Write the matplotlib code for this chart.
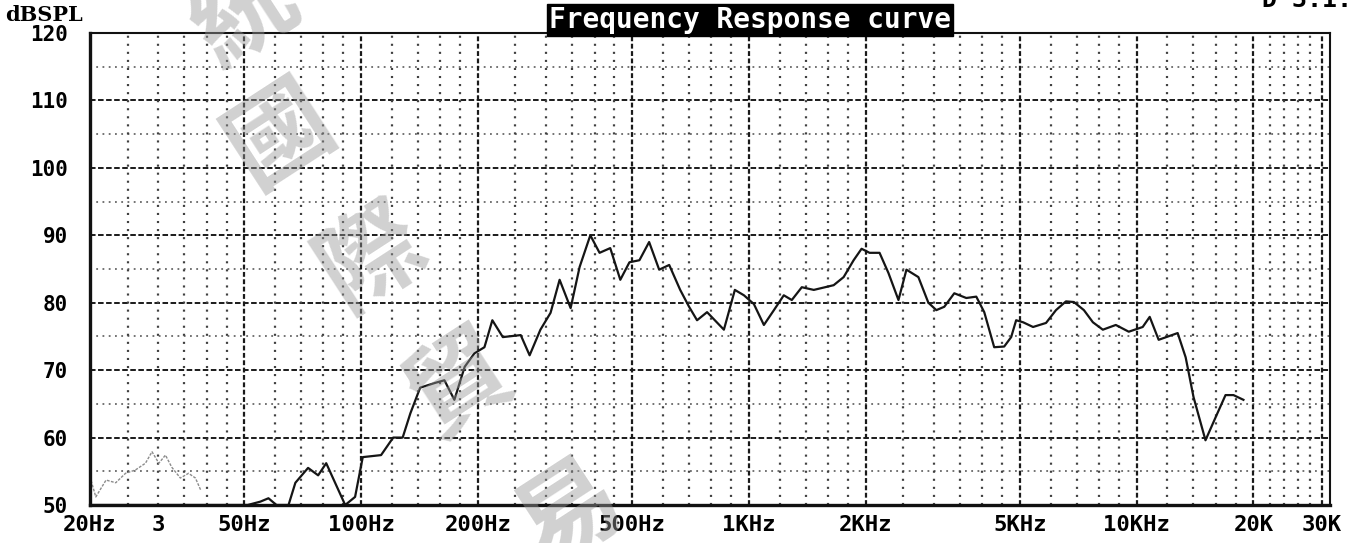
import matplotlib
matplotlib.use("Agg")
import matplotlib.pyplot as plt
from matplotlib.ticker import NullLocator

plt.rcParams['lines.scale_dashes'] = False

# measured response, main trace (Hz, dBSPL)
freq = [20, 51, 55, 57.7, 60.5, 65, 67.7, 73, 77.5, 81.3, 85.7, 91, 96.5, 101,
        112.6, 121, 128, 134, 142, 155, 164, 174, 185, 196, 208, 218, 232, 258,
        272, 290, 308, 325, 347, 366, 390, 412, 439, 466, 492, 522, 553, 587,
        623, 665, 701, 735, 780, 862, 920, 971, 1030, 1093, 1160, 1230, 1290,
        1369, 1470, 1654, 1755, 1862, 1952, 2047, 2172, 2290, 2430, 2548, 2735,
        2902, 3043, 3190, 3385, 3635, 3857, 4044, 4290, 4552, 4745, 4887, 5093,
        5403, 5836, 6191, 6569, 6887, 7308, 7708, 8177, 8831, 9537, 10360,
        10800, 11390, 12750, 13370, 14010, 15040, 15970, 16940, 17760, 18840]
spl = [50, 50, 50.5, 51, 50, 50, 53.3, 55.5, 54.4, 56.2, 53.3, 50, 51.2, 57.1,
       57.4, 60, 60, 63.6, 67.4, 68.1, 68.5, 65.6, 70.5, 72.5, 73.4, 77.4, 74.9,
       75.2, 72.2, 76, 78.5, 83.4, 79.2, 85.3, 90, 87.4, 88.1, 83.4, 86, 86.3,
       89, 84.9, 85.6, 81.9, 79.4, 77.4, 78.6, 76, 81.9, 81.1, 79.8, 76.7, 78.9,
       81.1, 80.4, 82.3, 81.9, 82.6, 83.8, 86.3, 88, 87.4, 87.4, 84.4, 80.4,
       84.9, 83.8, 80, 78.9, 79.4, 81.4, 80.7, 80.9, 78.6, 73.4, 73.5, 74.9,
       77.4, 77.1, 76.4, 77, 78.9, 80.2, 80.1, 78.9, 77.1, 76, 76.7, 75.7, 76.4,
       77.9, 74.5, 75.5, 71.9, 66, 59.6, 63, 66.3, 66.3, 65.6]

# faint low-frequency trace
freq_lo = [20, 20.7, 22, 23.3, 24.7, 26.2, 27.8, 28.9, 30.1, 31.3, 32.5, 34.2,
           35.9, 37.4, 38.6]
spl_lo = [54.2, 51.2, 53.7, 53.3, 54.7, 55.2, 56.2, 57.9, 56.2, 57.4, 55.6, 54,
          54.7, 54, 52.2]

x_ticks = [20, 30, 50, 100, 200, 500, 1000, 2000, 5000, 10000, 20000, 30000]
x_labels = ['20Hz', '3', '50Hz', '100Hz', '200Hz', '500Hz', '1KHz', '2KHz',
            '5KHz', '10KHz', '20K', '30K']
y_ticks = [50, 60, 70, 80, 90, 100, 110, 120]

x_major_grid = [50, 100, 200, 500, 1000, 2000, 5000, 10000, 20000, 30000]
x_minor_grid = [25, 30, 35, 40, 45, 60, 70, 80, 90, 120, 140, 160, 180, 250,
                300, 350, 400, 450, 600, 700, 800, 900, 1200, 1400, 1600, 1800,
                2500, 3000, 3500, 4000, 4500, 6000, 7000, 8000, 9000, 12000,
                14000, 16000, 18000, 22000, 24000, 26000, 28000]
y_major_grid = [60, 70, 80, 90, 100, 110]
y_minor_grid = [55, 65, 75, 85, 95, 105, 115]

watermark = ['統', '國', '際', '貿', '易']
wm_pos = [(245, 14), (280, 135), (372, 258), (460, 385), (570, 515)]

W, H = 1357, 543
mono = 'DejaVu Sans Mono'

fig = plt.figure(figsize=(W / 100, H / 100), dpi=100)
ax = fig.add_axes([90 / W, 1 - 505 / H, 1240 / W, 472 / H])
ax.set_xscale('log')
ax.set_xlim(20, 31500)
ax.set_ylim(50, 120)

# chart paper grid
for v in y_minor_grid:
    ax.axhline(v, color='0.3', lw=1.1, ls=(0, (1.3, 3.2)), zorder=1)
for v in y_major_grid:
    ax.axhline(v, color='0.1', lw=1.4, ls=(0, (4, 1.8)), zorder=1)
for v in x_minor_grid:
    ax.axvline(v, color='0.25', lw=1.6, ls=(0, (1.5, 4.3)), zorder=1)
for v in x_major_grid:
    ax.axvline(v, color='0.1', lw=1.6, ls=(0, (3.5, 1.8)), zorder=1)

ax.plot(freq_lo, spl_lo, color='0.55', lw=1.0, ls=(0, (2, 1)), zorder=3)
ax.plot(freq, spl, color='#151515', lw=1.6, zorder=4)

ax.xaxis.set_minor_locator(NullLocator())
ax.yaxis.set_minor_locator(NullLocator())
ax.set_xticks(x_ticks, x_labels)
ax.set_yticks(y_ticks, [str(v) for v in y_ticks])
ax.tick_params(axis='x', length=0, pad=7, labelsize=16)
ax.tick_params(axis='y', length=0, pad=16, labelsize=15)
for lab in ax.get_xticklabels() + ax.get_yticklabels():
    lab.set_fontfamily(mono)
    lab.set_fontweight('bold')

for side, lw in [('left', 2.4), ('bottom', 2.4), ('top', 1.5), ('right', 1.5)]:
    ax.spines[side].set_linewidth(lw)
    ax.spines[side].set_color('#111111')
    ax.spines[side].set_zorder(5)

fig.text(5 / W, 1 - 15 / H, 'dBSPL', family='DejaVu Serif', weight='bold',
         size=15, ha='left', va='center')
fig.text(750 / W, 1 - 20 / H, 'Frequency Response curve', family=mono,
         weight='bold', size=20, color='white', ha='center', va='center',
         bbox=dict(boxstyle='square,pad=0.08', fc='black', ec='black'))
fig.text(1352 / W, 1.0, 'D 3.1.', family=mono, weight='bold', size=18,
         ha='right', va='center')

for ch, (px, py) in zip(watermark, wm_pos):
    fig.text(px / W, 1 - py / H, ch, family=['Noto Sans CJK TC', 'DejaVu Sans'],
             size=74, weight='bold', color='0.6', alpha=0.45, rotation=33,
             rotation_mode='anchor', ha='center', va='center', zorder=10)

fig.savefig('out.png', dpi=100, facecolor='white')
